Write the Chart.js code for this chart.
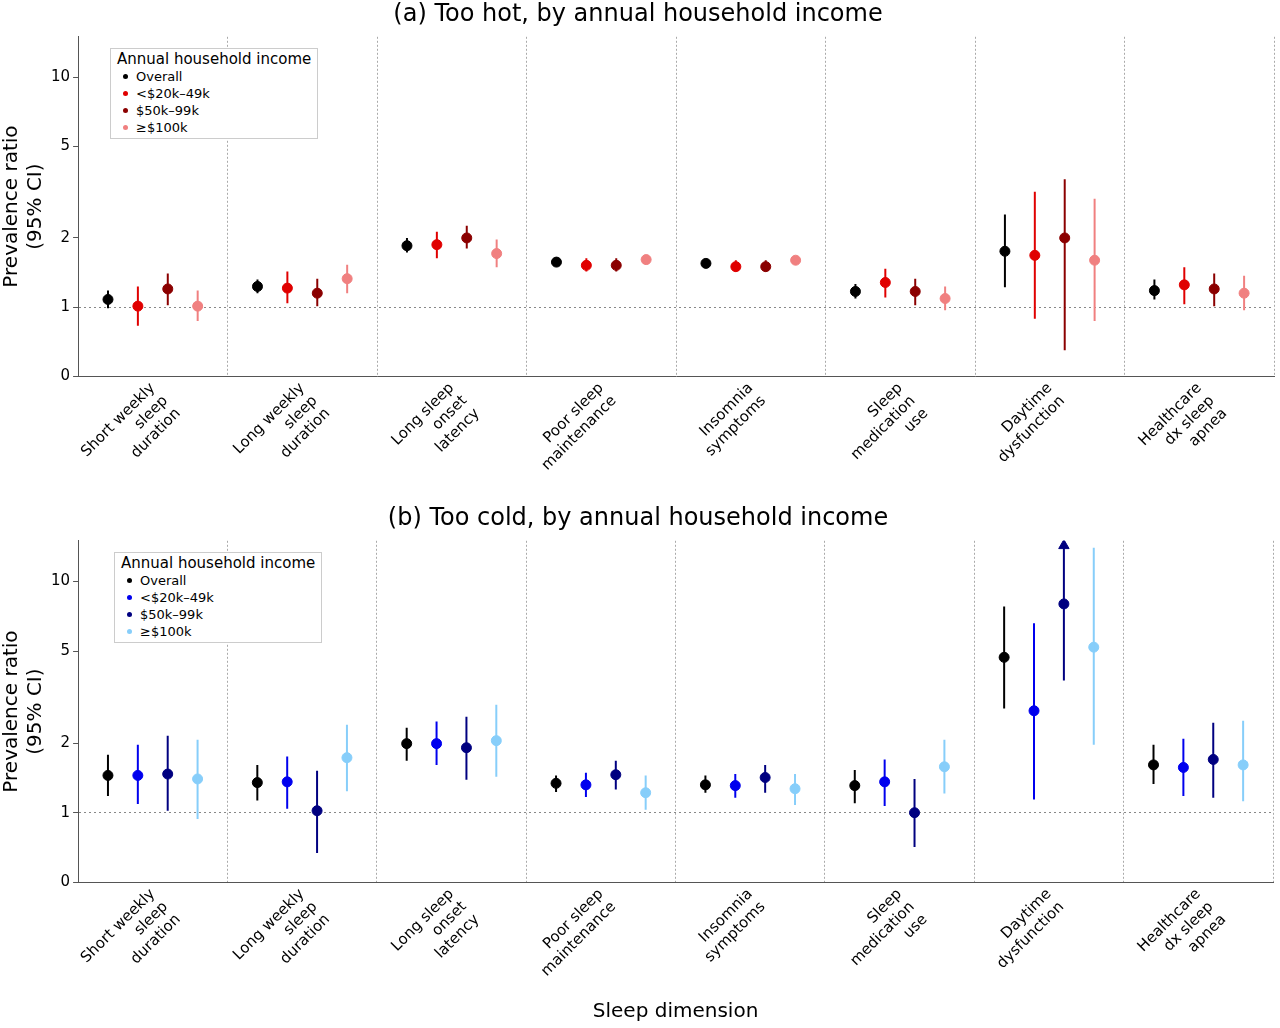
<!DOCTYPE html>
<html>
<head>
<meta charset="utf-8">
<script src="https://cdn.jsdelivr.net/npm/chart.js@4/dist/chart.umd.min.js"></script>
<style>
body { margin: 0; background: #fff; font-family: "DejaVu Sans", sans-serif; }
.box { position: absolute; left: 0; width: 1280px; }
.leg { position: absolute; border: 1px solid #ccc; background: #fff; font-size: 13px; padding: 2px 6px; line-height: 17px; }
.leg .t { font-size: 15px; }
.leg span.d { display: inline-block; width: 5px; height: 5px; border-radius: 3px; margin: 0 8px 2px 6px; vertical-align: middle; }
</style>
</head>
<body>
<div class="box" style="top:0;height:500px"><canvas id="ca"></canvas></div>
<div class="box" style="top:504px;height:524px"><canvas id="cb"></canvas></div>
<div class="leg" style="left:110px;top:48px">
  <div class="t">Annual household income</div>
  <div><span class="d" style="background:#000"></span>Overall</div>
  <div><span class="d" style="background:#e00000"></span>&lt;$20k–49k</div>
  <div><span class="d" style="background:#8b0000"></span>$50k–99k</div>
  <div><span class="d" style="background:#f08080"></span>≥$100k</div>
</div>
<div class="leg" style="left:114px;top:552px">
  <div class="t">Annual household income</div>
  <div><span class="d" style="background:#000"></span>Overall</div>
  <div><span class="d" style="background:#0000ee"></span>&lt;$20k–49k</div>
  <div><span class="d" style="background:#000080"></span>$50k–99k</div>
  <div><span class="d" style="background:#87cefa"></span>≥$100k</div>
</div>
<script>
var categorie = [
    ['Short weekly', 'sleep', 'duration'],
    ['Long weekly', 'sleep', 'duration'],
    ['Long sleep', 'onset', 'latency'],
    ['Poor sleep', 'maintenance'],
    ['Insomnia', 'symptoms'],
    ['Sleep', 'medication', 'use'],
    ['Daytime', 'dysfunction'],
    ['Healthcare', 'dx sleep', 'apnea']
];
var serie = ['Overall', '<$20k–49k', '$50k–99k', '≥$100k'];
var offsetSerie = [-0.3, -0.1, 0.1, 0.3];
var tickY = [0.5, 1, 2, 5, 10];

// pannello (a) troppo caldo
var caldoPR = [
    [1.08, 1.23, 1.85, 1.57, 1.55, 1.17, 1.75, 1.18],
    [1.01, 1.21, 1.87, 1.52, 1.50, 1.28, 1.68, 1.25],
    [1.20, 1.15, 2.00, 1.52, 1.50, 1.17, 2.00, 1.20],
    [1.01, 1.33, 1.71, 1.61, 1.60, 1.09, 1.60, 1.15]
];
var caldoLo = [
    [0.99, 1.15, 1.73, 1.54, 1.53, 1.09, 1.22, 1.08],
    [0.83, 1.04, 1.63, 1.43, 1.43, 1.10, 0.89, 1.03],
    [1.02, 1.01, 1.80, 1.43, 1.43, 1.02, 0.65, 1.01],
    [0.87, 1.15, 1.49, 1.54, 1.53, 0.97, 0.87, 0.97]
];
var caldoHi = [
    [1.18, 1.32, 2.00, 1.60, 1.58, 1.26, 2.53, 1.32],
    [1.23, 1.43, 2.13, 1.63, 1.60, 1.47, 3.18, 1.49],
    [1.40, 1.33, 2.26, 1.63, 1.60, 1.33, 3.60, 1.40],
    [1.18, 1.53, 1.97, 1.68, 1.67, 1.23, 2.96, 1.37]
];

// pannello (b) troppo freddo
var freddoPR = [
    [1.45, 1.35, 1.99, 1.34, 1.32, 1.31, 4.70, 1.61],
    [1.45, 1.36, 1.99, 1.32, 1.31, 1.36, 2.76, 1.57],
    [1.47, 1.02, 1.91, 1.46, 1.42, 1.00, 8.00, 1.70],
    [1.40, 1.73, 2.05, 1.22, 1.27, 1.58, 5.20, 1.61]
];
var freddoLo = [
    [1.18, 1.13, 1.68, 1.23, 1.22, 1.10, 2.82, 1.33],
    [1.09, 1.04, 1.61, 1.17, 1.16, 1.07, 1.14, 1.18],
    [1.02, 0.67, 1.39, 1.26, 1.22, 0.71, 3.73, 1.16],
    [0.94, 1.24, 1.43, 1.03, 1.08, 1.21, 1.97, 1.12]
];
var freddoHi = [
    [1.78, 1.61, 2.33, 1.45, 1.45, 1.53, 7.80, 1.97],
    [1.97, 1.75, 2.48, 1.49, 1.47, 1.70, 6.60, 2.09],
    [2.15, 1.52, 2.60, 1.68, 1.61, 1.40, 16.0, 2.45],
    [2.07, 2.40, 2.93, 1.45, 1.47, 2.07, 14.0, 2.50]
];

var coloriCaldo = ['#000000', '#e00000', '#8b0000', '#f08080'];
var coloriFreddo = ['#000000', '#0000ee', '#000080', '#87cefa'];

function creaDataset(pr, lo, hi, colori) {
    var ds = [];
    for (var s = 0; s < serie.length; s++) {
        var barre = [];
        var punti = [];
        for (var i = 0; i < categorie.length; i++) {
            var x = i + offsetSerie[s];
            barre.push({ x: x, y: lo[s][i] }, { x: x, y: hi[s][i] }, { x: x, y: NaN });
            punti.push({ x: x, y: pr[s][i] });
        }
        ds.push({ label: serie[s] + ' CI', data: barre, showLine: true, spanGaps: false,
            borderColor: colori[s], borderWidth: 2, pointRadius: 0, pointHoverRadius: 0 });
        ds.push({ label: serie[s], data: punti, backgroundColor: colori[s], borderColor: colori[s],
            pointRadius: 5 });
    }
    return ds;
}

function opzioni(titolo, grassetto, conTitoloX) {
    return {
        responsive: true, maintainAspectRatio: false, animation: false,
        layout: { padding: { left: 0, right: 4, top: 0, bottom: conTitoloX ? 0 : 10 } },
        plugins: {
            legend: { display: false },
            tooltip: { enabled: false },
            title: { display: true, text: grassetto + ' ' + titolo, color: '#000',
                font: { size: 24, family: 'DejaVu Sans', weight: 'normal' }, padding: { top: 0, bottom: 8 } }
        },
        scales: {
            x: {
                type: 'linear', min: -0.5, max: 7.5,
                afterBuildTicks: function (ax) { ax.ticks = categorie.map(function (c, i) { return { value: i }; }); },
                ticks: { autoSkip: false, maxRotation: 45, minRotation: 45, color: '#000',
                    font: { size: 15, family: 'DejaVu Sans' },
                    callback: function (v) { return categorie[v]; } },
                grid: { offset: true, color: '#aaa', drawTicks: false, tickLength: 0 },
                border: { color: '#555', display: true, dash: [2, 2] },
                title: { display: conTitoloX, text: 'Sleep dimension', color: '#000',
                    font: { size: 20, family: 'DejaVu Sans' } }
            },
            y: {
                type: 'logarithmic', min: 0.5, max: 15,
                afterBuildTicks: function (ax) { ax.ticks = tickY.map(function (v) { return { value: v }; }); },
                ticks: { color: '#000', font: { size: 15, family: 'DejaVu Sans' },
                    callback: function (v) { return v === 0.5 ? '0' : String(v); } },
                grid: { color: function (c) { return c.tick && c.tick.value === 1 ? '#888' : 'rgba(0,0,0,0)'; },
                    drawTicks: true, tickColor: '#555', tickLength: 5 },
                border: { color: '#555', dash: [2, 3] },
                title: { display: true, text: ['Prevalence ratio', '(95% CI)'], color: '#000',
                    font: { size: 20, family: 'DejaVu Sans' }, padding: 0 }
            }
        }
    };
}

var dsFreddo = creaDataset(freddoPR, freddoLo, freddoHi, coloriFreddo);
// freccia per CI troncato
dsFreddo.push({ label: 'arrow', data: [{ x: 6 + offsetSerie[2], y: 14.3 }], pointStyle: 'triangle',
    pointRadius: 6, backgroundColor: '#000080', borderColor: '#000080' });

new Chart(document.getElementById('ca'), {
    type: 'scatter',
    data: { datasets: creaDataset(caldoPR, caldoLo, caldoHi, coloriCaldo) },
    options: opzioni('Too hot, by annual household income', '(a)', false)
});
new Chart(document.getElementById('cb'), {
    type: 'scatter',
    data: { datasets: dsFreddo },
    options: opzioni('Too cold, by annual household income', '(b)', true)
});
</script>
</body>
</html>
